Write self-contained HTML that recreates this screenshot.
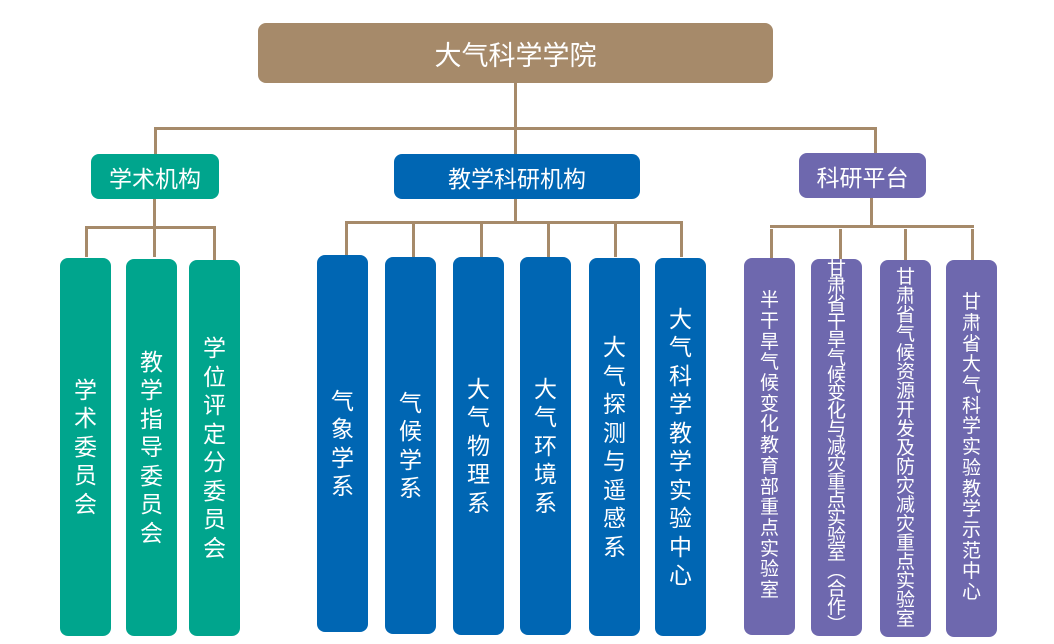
<!DOCTYPE html>
<html><head><meta charset="utf-8"><style>
body{margin:0;width:1054px;height:644px;background:#fff;position:relative;overflow:hidden;font-family:"Liberation Sans","Noto Sans CJK SC",sans-serif;}
.b{position:absolute;border-radius:8px;color:#fff;display:flex;align-items:center;justify-content:center;}
.l{position:absolute;background:#a68a6a;}
.v{flex-direction:column;}
.v span{display:block;text-align:center;width:100%;}
.t{background:#00a58d}.bl{background:#0066b3}.p{background:#6e68ae}
</style></head><body>
<div class="b" style="left:258px;top:23px;width:515px;height:60px;background:#a68a6a;font-size:27px;">大气科学学院</div>
<div class="l" style="left:514px;top:83px;width:3px;height:71px"></div>
<div class="l" style="left:154px;top:127px;width:722px;height:3px"></div>
<div class="l" style="left:154px;top:127px;width:3px;height:27px"></div>
<div class="l" style="left:874px;top:127px;width:3px;height:26px"></div>

<div class="b t" style="left:91px;top:154px;width:128px;height:45px;font-size:23px;">学术机构</div>
<div class="b bl" style="left:394px;top:154px;width:246px;height:45px;font-size:23px;">教学科研机构</div>
<div class="b p" style="left:799px;top:153px;width:127px;height:45px;font-size:23px;">科研平台</div>

<div class="l" style="left:153px;top:199px;width:3px;height:58px"></div>
<div class="l" style="left:85px;top:226px;width:130px;height:3px"></div>
<div class="l" style="left:85px;top:226px;width:3px;height:31px"></div>
<div class="l" style="left:213px;top:226px;width:3px;height:34px"></div>

<div class="l" style="left:514px;top:199px;width:3px;height:23px"></div>
<div class="l" style="left:345px;top:221px;width:337px;height:3px"></div>
<div class="l" style="left:345px;top:221px;width:3px;height:34px"></div>
<div class="l" style="left:412px;top:221px;width:3px;height:36px"></div>
<div class="l" style="left:480px;top:221px;width:3px;height:36px"></div>
<div class="l" style="left:547px;top:221px;width:3px;height:36px"></div>
<div class="l" style="left:614px;top:221px;width:3px;height:36px"></div>
<div class="l" style="left:680px;top:221px;width:3px;height:36px"></div>

<div class="l" style="left:870px;top:198px;width:3px;height:28px"></div>
<div class="l" style="left:770px;top:225px;width:204px;height:3px"></div>
<div class="l" style="left:770px;top:229px;width:3px;height:29px"></div>
<div class="l" style="left:839px;top:229px;width:3px;height:30px"></div>
<div class="l" style="left:904px;top:229px;width:3px;height:31px"></div>
<div class="l" style="left:971px;top:229px;width:3px;height:31px"></div>

<div class="b t v" style="left:60px;top:258px;width:51px;height:378px;font-size:23px;line-height:28.5px;"><span>学</span><span>术</span><span>委</span><span>员</span><span>会</span></div>
<div class="b t v" style="left:126px;top:259px;width:51px;height:377px;font-size:23px;line-height:28.5px;"><span>教</span><span>学</span><span>指</span><span>导</span><span>委</span><span>员</span><span>会</span></div>
<div class="b t v" style="left:189px;top:260px;width:51px;height:376px;font-size:23px;line-height:28.5px;"><span>学</span><span>位</span><span>评</span><span>定</span><span>分</span><span>委</span><span>员</span><span>会</span></div>

<div class="b bl v" style="left:317px;top:255px;width:51px;height:377px;font-size:23px;line-height:28.5px;"><span>气</span><span>象</span><span>学</span><span>系</span></div>
<div class="b bl v" style="left:385px;top:257px;width:51px;height:377px;font-size:23px;line-height:28.5px;"><span>气</span><span>候</span><span>学</span><span>系</span></div>
<div class="b bl v" style="left:453px;top:257px;width:51px;height:378px;font-size:23px;line-height:28.5px;"><span>大</span><span>气</span><span>物</span><span>理</span><span>系</span></div>
<div class="b bl v" style="left:520px;top:257px;width:51px;height:378px;font-size:23px;line-height:28.5px;"><span>大</span><span>气</span><span>环</span><span>境</span><span>系</span></div>
<div class="b bl v" style="left:589px;top:258px;width:51px;height:378px;font-size:23px;line-height:28.5px;"><span>大</span><span>气</span><span>探</span><span>测</span><span>与</span><span>遥</span><span>感</span><span>系</span></div>
<div class="b bl v" style="left:655px;top:258px;width:51px;height:378px;font-size:23px;line-height:28.5px;"><span>大</span><span>气</span><span>科</span><span>学</span><span>教</span><span>学</span><span>实</span><span>验</span><span>中</span><span>心</span></div>

<div class="b p v" style="left:744px;top:258px;width:51px;height:377px;font-size:19px;line-height:20.7px;"><span>半</span><span>干</span><span>旱</span><span>气</span><span>候</span><span>变</span><span>化</span><span>教</span><span>育</span><span>部</span><span>重</span><span>点</span><span>实</span><span>验</span><span>室</span></div>
<div class="b p v" style="left:811px;top:259px;width:51px;height:377px;font-size:19px;line-height:17.8px;"><span>甘</span><span>肃</span><span>省</span><span>干</span><span>旱</span><span>气</span><span>候</span><span>变</span><span>化</span><span>与</span><span>减</span><span>灾</span><span>重</span><span>点</span><span>实</span><span>验</span><span>室</span><span>︵</span><span>合</span><span>作</span><span>︶</span></div>
<div class="b p v" style="left:880px;top:260px;width:51px;height:377px;font-size:19px;line-height:19px;"><span>甘</span><span>肃</span><span>省</span><span>气</span><span>候</span><span>资</span><span>源</span><span>开</span><span>发</span><span>及</span><span>防</span><span>灾</span><span>减</span><span>灾</span><span>重</span><span>点</span><span>实</span><span>验</span><span>室</span></div>
<div class="b p v" style="left:946px;top:260px;width:51px;height:377px;font-size:19px;line-height:20.7px;"><span>甘</span><span>肃</span><span>省</span><span>大</span><span>气</span><span>科</span><span>学</span><span>实</span><span>验</span><span>教</span><span>学</span><span>示</span><span>范</span><span>中</span><span>心</span></div>
</body></html>
